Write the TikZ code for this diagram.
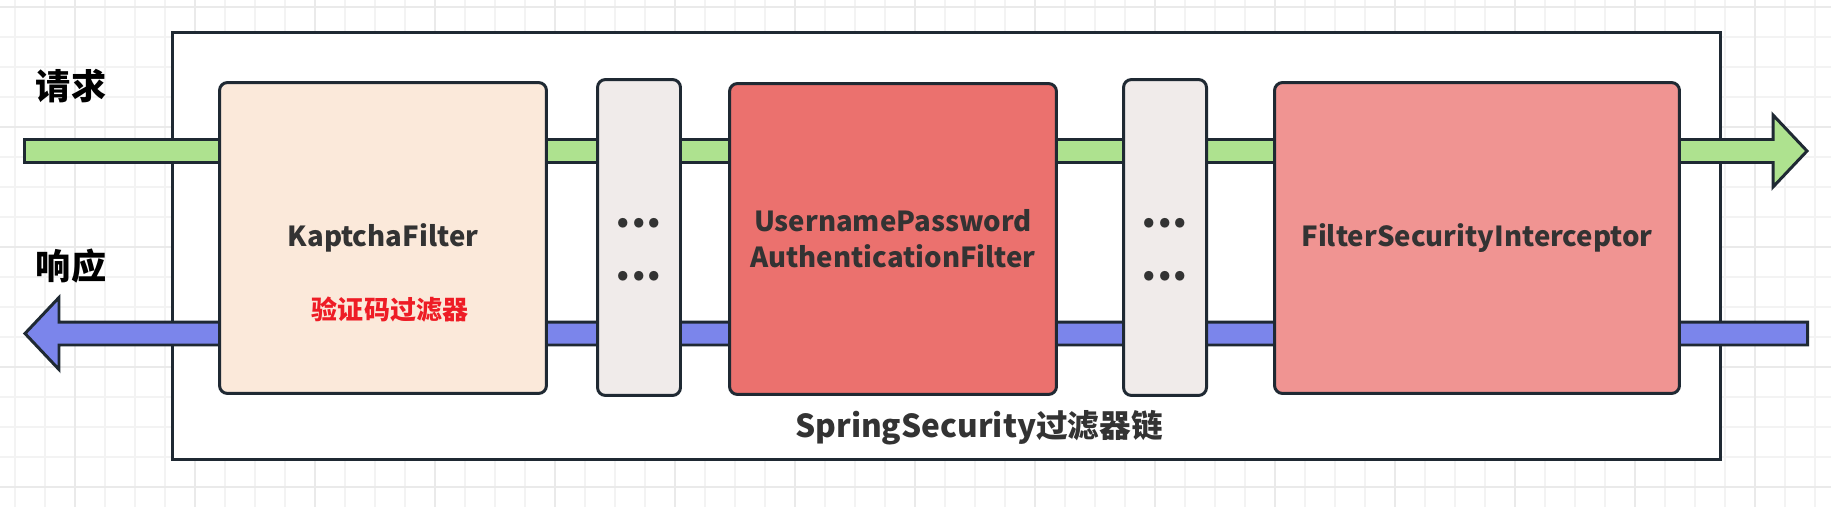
\documentclass[tikz,border=0pt]{standalone}
\usepackage{fontspec}
\setmainfont{Noto Sans CJK SC}
\usetikzlibrary{calc}
\definecolor{framecol}{HTML}{1F2933}
\definecolor{reqgreen}{HTML}{AEE28F}
\definecolor{resblue}{HTML}{7B85EB}
\definecolor{kaptchafill}{HTML}{FBE9DA}
\definecolor{gapfill}{HTML}{F0EBEA}
\definecolor{upafill}{HTML}{EB716E}
\definecolor{fsifill}{HTML}{F09492}
\definecolor{textgray}{HTML}{333333}
\definecolor{notered}{HTML}{EE1C25}
\definecolor{gridthin}{HTML}{F3F3F3}
\definecolor{gridthick}{HTML}{EAEAEA}
\tikzstyle{filterbox} = [rectangle, draw=framecol, line width=1.7pt, rounded corners=0.16cm, text centered, align=center, text=textgray, font=\bfseries\fontsize{15.7}{20.5}\selectfont, minimum height=6.22cm]
\tikzstyle{gapbox} = [filterbox, fill=gapfill, minimum width=1.66cm, minimum height=6.32cm]
\tikzstyle{gapdots} = [text=textgray, font=\bfseries\fontsize{25}{25}\selectfont]
\tikzstyle{sidelabel} = [text=black, font=\bfseries\fontsize{20}{20}\selectfont]
\tikzstyle{reqarrow} = [draw=framecol, line width=1.7pt, fill=reqgreen]
\tikzstyle{resarrow} = [draw=framecol, line width=1.7pt, fill=resblue]
\newcommand{\drawFlowArrow}[3]
{
    \coordinate (hb) at ($(#2)!0.68cm!(#1)$);
    \draw [#3] ($(#1)!0.23cm!90:(#2)$) -- ($(hb)!0.23cm!-90:(#1)$) -- ($(hb)!0.72cm!-90:(#1)$) -- (#2)
        -- ($(hb)!0.72cm!90:(#1)$) -- ($(hb)!0.23cm!90:(#1)$) -- ($(#1)!0.23cm!-90:(#2)$) -- cycle;
}

\begin{document}
\begin{tikzpicture}[x=0.02cm, y=-0.02cm]
\useasboundingbox (0,0) rectangle (1831,507);
\fill [white] (0,0) rectangle (1831,507);

% grid
\foreach \gx in {15,45,...,1831}
    \draw [gridthin, line width=1.1pt] (\gx,0) -- (\gx,507);
\foreach \gy in {7,37,...,507}
    \draw [gridthin, line width=1.1pt] (0,\gy) -- (1831,\gy);
\foreach \gx in {75,195,...,1831}
    \draw [gridthick, line width=1.5pt] (\gx,0) -- (\gx,507);
\foreach \gy in {7,127,...,507}
    \draw [gridthick, line width=1.5pt] (0,\gy) -- (1831,\gy);

\node (chain) [rectangle, draw=framecol, line width=1.7pt, fill=white, minimum width=30.96cm, minimum height=8.54cm] at (946.5,246) {};

\coordinate (reqin) at (24.5,151);
\coordinate (reqout) at (1807,151);
\coordinate (resin) at (1807.5,333.5);
\coordinate (resout) at (25,333.5);

\drawFlowArrow{reqin}{reqout}{reqarrow}
\drawFlowArrow{resin}{resout}{resarrow}

\node (kf) [filterbox, fill=kaptchafill, minimum width=6.54cm] at (383,238) {KaptchaFilter};
\node (gap1) [gapbox] at (639,237.5) {};
\node (upaf) [filterbox, fill=upafill, minimum width=6.54cm] at (893,239) {UsernamePassword\\AuthenticationFilter};
\node (gap2) [gapbox] at (1165,237.5) {};
\node (fsi) [filterbox, fill=fsifill, minimum width=8.10cm] at (1477,238) {FilterSecurityInterceptor};

\node (kfnote) [text=notered, font=\bfseries\fontsize{14.8}{14.8}\selectfont] at (390,310) {验证码过滤器};

\node (dots1a) [gapdots] at (639,223) {...};
\node (dots1b) [gapdots] at (639,276) {...};
\node (dots2a) [gapdots] at (1165,223) {...};
\node (dots2b) [gapdots] at (1165,276) {...};

\node (req) [sidelabel] at (71,86) {请求};
\node (res) [sidelabel] at (71,266) {响应};

\node (chainlabel) [text=textgray, font=\bfseries\fontsize{18}{18}\selectfont] at (979,428) {SpringSecurity过滤器链};

\end{tikzpicture}
\end{document}
